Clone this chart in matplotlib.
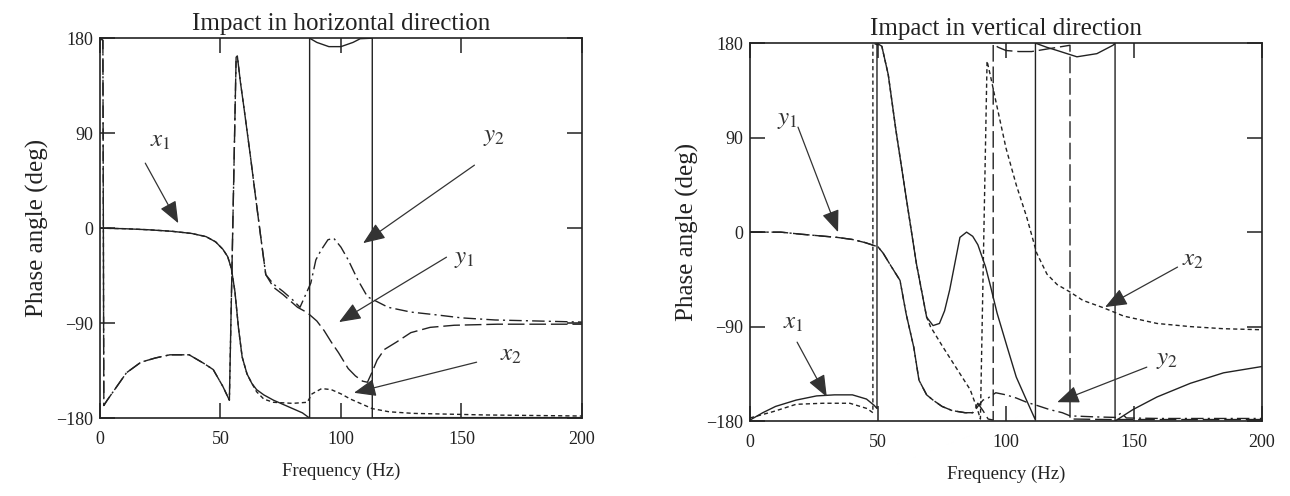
import matplotlib.pyplot as plt

plt.rcParams['font.family'] = ['Liberation Serif', 'DejaVu Serif']
plt.rcParams['mathtext.fontset'] = 'stix'

# ---------- impact in horizontal direction (phase, deg) ----------
h_x1_f = [0, 10, 20, 30, 38, 44, 48, 51, 53, 54.5, 56, 57.5, 59, 61, 63, 65, 68, 72, 76, 80, 84, 87,
          87, 90, 95, 100, 105, 108, 113, 113, 130, 160, 200]
h_x1_p = [0, -0.5, -1.5, -3, -5, -8, -13, -20, -27, -38, -60, -95, -122, -138, -147, -153, -158, -163, -167, -171, -175, -180,
          180, 176, 172, 172, 176, 179.5, 180, -180, -179.5, -179.5, -179.5]

h_x2_f = [0, 10, 20, 30, 38, 44, 48, 51, 53, 54.5, 56, 57.5, 59, 61, 63, 65, 68, 72, 80, 86, 88, 92, 96,
          100, 104, 108, 113, 120, 130, 140, 160, 200]
h_x2_p = [0, -0.5, -1.5, -3, -5, -8, -13, -20, -27, -38, -60, -95, -122, -138, -147, -155, -162, -165, -166, -165, -157, -152, -153,
          -157, -162, -166, -171, -174, -175.5, -176, -177, -178]

h_y1_f = [0, 1.2, 1.6, 3, 7, 11, 17, 23, 29, 37, 43, 47, 51, 53.7, 56.5, 57, 58.3, 59.7, 62.5, 64.6, 66.7, 68.8,
          72, 76, 82, 86, 90, 93, 96, 99, 103, 106, 109, 111, 113, 115, 118, 123, 129, 137, 147, 165, 200]
h_y1_p = [180, 178, -168, -163, -150, -137, -127, -123, -120, -120, -128, -134, -150, -163, 162, 163, 138, 115, 67, 29, -8, -44,
          -56, -63, -75, -80, -88, -97, -108, -118, -133, -140, -145, -146, -136, -125, -115, -108, -99, -94, -92, -91, -91]

h_y2_f = [0, 1.2, 1.6, 3, 7, 11, 17, 23, 29, 37, 43, 47, 51, 53.7, 56.5, 57, 58.3, 59.7, 62.5, 64.6, 66.7, 68.8,
          72, 76, 80, 83, 87.5, 89.6, 91.7, 94.6, 97, 100, 103, 107, 111, 119.6, 129, 139, 150, 164, 200]
h_y2_p = [180, 178, -168, -163, -150, -137, -127, -123, -120, -120, -128, -134, -150, -163, 162, 163, 138, 115, 67, 29, -8, -44,
          -53, -60, -68, -75, -52, -30, -21, -11, -9.5, -18, -30, -49, -65, -75, -79.5, -82, -85, -87, -89]

# ---------- impact in vertical direction (phase, deg) ----------
v_x1_f = [0, 5, 10, 18, 26, 33, 40, 45.5, 48.5, 49.6, 49.6, 51.5, 54, 57, 61, 65, 69, 71.5, 74, 76, 78, 80, 82,
          84.6, 87, 89, 92, 94, 96.5, 100.4, 104, 108, 111.5, 111.5, 116, 120, 127.7, 135.5, 141.8, 142.6, 142.6,
          144.5, 149.6, 159, 172, 185, 200]
v_x1_p = [-179, -172, -166, -160, -156, -155, -155, -159, -165, -168, 180, 177, 150, 97, 33, -30, -81, -89, -87, -75, -55, -30, -5,
          0, -4, -12, -33, -52, -77, -109, -138, -160, -179, 180, 176, 173, 167, 170, 178, 180, -180,
          -177, -169, -157, -144, -134, -128]

v_x2_f = [0, 9, 18, 28.5, 39, 45.7, 48, 48, 51.5, 54, 57, 61, 65, 69, 70.5, 75, 81, 86, 89, 90, 92.6,
          94, 96, 100, 104, 108, 112, 116, 120, 125, 130, 138, 146, 159, 172, 185, 200]
v_x2_p = [-177, -171, -164, -163, -163, -168, -172, 180, 177, 150, 97, 33, -30, -81, -90, -108, -131, -150, -170, -178, 163,
          148, 125, 80, 45, 15, -20, -40, -50, -57, -65, -72, -80, -87, -90, -92, -93]

v_y1_f = [0, 12, 20, 27, 34, 40, 45, 50, 52, 55, 58.6, 61, 64, 66, 69, 71.5, 75, 79, 84, 87, 89, 91, 93, 95,
          95, 97, 100, 105, 110, 115, 120, 125, 125, 140, 170, 200]
v_y1_p = [0, 0, -2, -3.5, -5, -7, -10, -14, -20, -32, -46, -78, -110, -141, -155, -160, -166, -170, -172, -172, -163, -170, -178, -179,
          179, 176, 173, 172, 172, 174, 176, 178, -178, -178.5, -178.5, -178.5]

v_y2_f = [0, 12, 20, 27, 34, 40, 45, 50, 52, 55, 58.6, 61, 64, 66, 69, 71.5, 75, 79, 84, 87, 89, 91, 93,
          96, 100, 104, 108, 112, 117, 122, 125, 135, 143, 145, 147, 160, 200]
v_y2_p = [0, 0, -2, -3.5, -5, -7, -10, -14, -20, -32, -46, -78, -110, -141, -155, -160, -166, -170, -172, -172, -166, -160, -158,
          -153, -155, -158, -162, -165, -169, -172, -175, -176, -176.5, -172, -177, -177.5, -177.5]

ticks_x = [0, 50, 100, 150, 200]
ticks_y = [-180, -90, 0, 90, 180]

ink = '#222222'
sty_x1 = '-'
sty_x2 = (0, (3, 2.2))
sty_y1 = (0, (12, 3.5))
sty_y2 = (0, (9, 3, 1.5, 3))

fig = plt.figure(figsize=(12.9, 4.96), dpi=100)
ax1 = fig.add_axes([0.0775, 0.157, 0.3736, 0.766])
ax2 = fig.add_axes([0.5814, 0.151, 0.3969, 0.762])


def setup(ax, title):
    ax.set_xlim(0, 200)
    ax.set_ylim(-180, 180)
    ax.set_xticks(ticks_x)
    ax.set_yticks(ticks_y)
    ax.tick_params(direction='in', length=11, width=1.1, top=True, right=True,
                   labelsize=13, colors=ink, pad=9)
    ax.tick_params(axis='y', pad=5)
    for s in ax.spines.values():
        s.set_linewidth(1.2)
        s.set_color(ink)
    ax.set_title(title, fontsize=18, pad=6, color=ink)
    ax.set_xlabel('Frequency (Hz)', fontsize=13.5, labelpad=11, color=ink)
    ax.set_ylabel('Phase angle (deg)', fontsize=18, labelpad=5, color=ink)


def note(ax, label, lpos, tail, tip):
    ax.text(lpos[0], lpos[1], label, fontsize=18, ha='center', va='center', color='#333333')
    ax.annotate('', xy=tip, xytext=tail,
                arrowprops=dict(arrowstyle='-|>,head_length=0.75,head_width=0.3', mutation_scale=18,
                                lw=0.9, color='#333333', shrinkA=0, shrinkB=0))


lw = 1.0
ax1.plot(h_x1_f, h_x1_p, color=ink, lw=lw, linestyle=sty_x1)
ax1.plot(h_x2_f, h_x2_p, color=ink, lw=lw, linestyle=sty_x2)
ax1.plot(h_y1_f, h_y1_p, color=ink, lw=lw, linestyle=sty_y1)
ax1.plot(h_y2_f, h_y2_p, color=ink, lw=lw, linestyle=sty_y2)
setup(ax1, 'Impact in horizontal direction')
note(ax1, r'$x_{\mathit{1}}$', (25, 83), (18.8, 61.6), (32.5, 4.7))
note(ax1, r'$y_{\mathit{2}}$', (163.7, 86), (155.4, 59.7), (109.2, -14.2))
note(ax1, r'$y_{\mathit{1}}$', (151.3, -29.4), (143.8, -27.5), (99.2, -89))
note(ax1, r'$x_{\mathit{2}}$', (170.4, -120), (156.3, -127), (105.4, -156))

ax2.plot(v_x1_f, v_x1_p, color=ink, lw=lw, linestyle=sty_x1)
ax2.plot(v_x2_f, v_x2_p, color=ink, lw=lw, linestyle=sty_x2)
ax2.plot(v_y1_f, v_y1_p, color=ink, lw=lw, linestyle=sty_y1)
ax2.plot(v_y2_f, v_y2_p, color=ink, lw=lw, linestyle=sty_y2)
setup(ax2, 'Impact in vertical direction')
note(ax2, r'$y_{\mathit{1}}$', (14.5, 106.7), (18.75, 100), (34.4, 0))
note(ax2, r'$x_{\mathit{1}}$', (16.8, -86.7), (18.4, -104.8), (30, -157))
note(ax2, r'$x_{\mathit{2}}$', (173, -26.7), (167, -33.3), (138.7, -71.4))
note(ax2, r'$y_{\mathit{2}}$', (163, -122), (155, -128.6), (120, -162))

fig.savefig('out.png', dpi=100)
